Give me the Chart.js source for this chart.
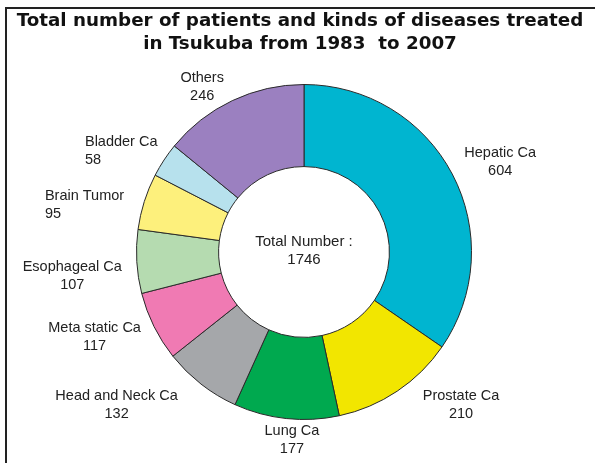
<!DOCTYPE html>
<html>
<head>
<meta charset="utf-8">
<script src="https://cdn.jsdelivr.net/npm/chart.js@4.4.1/dist/chart.umd.min.js"></script>
<style>
  html, body { margin: 0; padding: 0; background: #fff; }
  #wrap { position: relative; width: 595px; height: 463px; overflow: hidden; }
  #frame { position: absolute; left: 5px; top: 7px; width: 600px; height: 470px;
           border-left: 2px solid #222; border-top: 2px solid #222; }
  canvas { position: absolute; left: 0; top: 0; }
</style>
</head>
<body>
<div id="wrap">
  <div id="frame"></div>
  <canvas id="chart" width="595" height="463"></canvas>
</div>
<script>
// --- Datos ---
const categories = ['Hepatic Ca', 'Prostate Ca', 'Lung Ca', 'Head and Neck Ca', 'Meta static Ca',
                    'Esophageal Ca', 'Brain Tumor', 'Bladder Ca', 'Others'];
const patients = [604, 210, 177, 132, 117, 107, 95, 58, 246];
const sliceColors = ['#00b5d0', '#f2e600', '#00a94f', '#a5a7aa', '#f07ab3',
                     '#b5dbb0', '#fdf07c', '#b7e1ed', '#9b80c0'];
const titleLines = ['Total number of patients and kinds of diseases treated', 'in Tsukuba from 1983  to 2007'];
const centerLines = ['Total Number :', '1746'];

// label placement: distance from centre and angle tweak (deg) relative to slice middle
const labelDist = [216, 219, 188, 242, 226, 233, 224, 210, 194];
const labelTurn = [3, -12, -2.4, 12.8, 4.3, -2.7, -5.5, -4.5, -6.3];
const labelAlign = ['center', 'center', 'center', 'center', 'center', 'center', 'left', 'left', 'center'];
const labelShiftX = [0, 0, 0, 0, 0, 0, -40, -35, 0];

const textColor = '#222';

const labelPlugin = {
    id: 'labels',
    afterDraw(chart) {
        const ctx = chart.ctx;
        const arcs = chart.getDatasetMeta(0).data;
        ctx.save();
        ctx.textBaseline = 'middle';

        // titulo
        ctx.fillStyle = '#111';
        ctx.textAlign = 'center';
        ctx.font = 'bold 18.3px "DejaVu Sans", sans-serif';
        ctx.fillText(titleLines[0], 300, 21);
        ctx.fillText(titleLines[1], 300, 44);

        // etiquetas
        ctx.fillStyle = textColor;
        ctx.font = '14.5px "Liberation Sans", Arial, sans-serif';
        arcs.forEach((arc, i) => {
            const p = arc.getProps(['x', 'y', 'startAngle', 'endAngle']);
            const mid = (p.startAngle + p.endAngle) / 2 + labelTurn[i] * Math.PI / 180;
            let x = p.x + Math.cos(mid) * labelDist[i];
            const y = p.y + Math.sin(mid) * labelDist[i];
            ctx.textAlign = labelAlign[i];
            x += labelShiftX[i];
            ctx.fillText(categories[i], x, y - 9);
            ctx.fillText(String(patients[i]), x, y + 9);
        });

        // texto central
        const c = arcs[0];
        ctx.textAlign = 'center';
        ctx.font = '15px "Liberation Sans", Arial, sans-serif';
        ctx.fillText(centerLines[0], c.x, c.y - 10);
        ctx.fillText(centerLines[1], c.x, c.y + 8);
        ctx.restore();
    }
};

new Chart(document.getElementById('chart').getContext('2d'), {
    type: 'doughnut',
    data: {
        labels: categories,
        datasets: [{
            data: patients,
            backgroundColor: sliceColors,
            borderColor: '#2a2a2a',
            borderWidth: 1,
            borderAlign: 'center'
        }]
    },
    options: {
        responsive: false,
        animation: false,
        cutout: '51%',
        layout: { padding: { left: 135, right: 122, top: 84, bottom: 43 } },
        plugins: {
            legend: { display: false },
            tooltip: { enabled: false },
            title: { display: false }
        }
    },
    plugins: [labelPlugin]
});
</script>
</body>
</html>
